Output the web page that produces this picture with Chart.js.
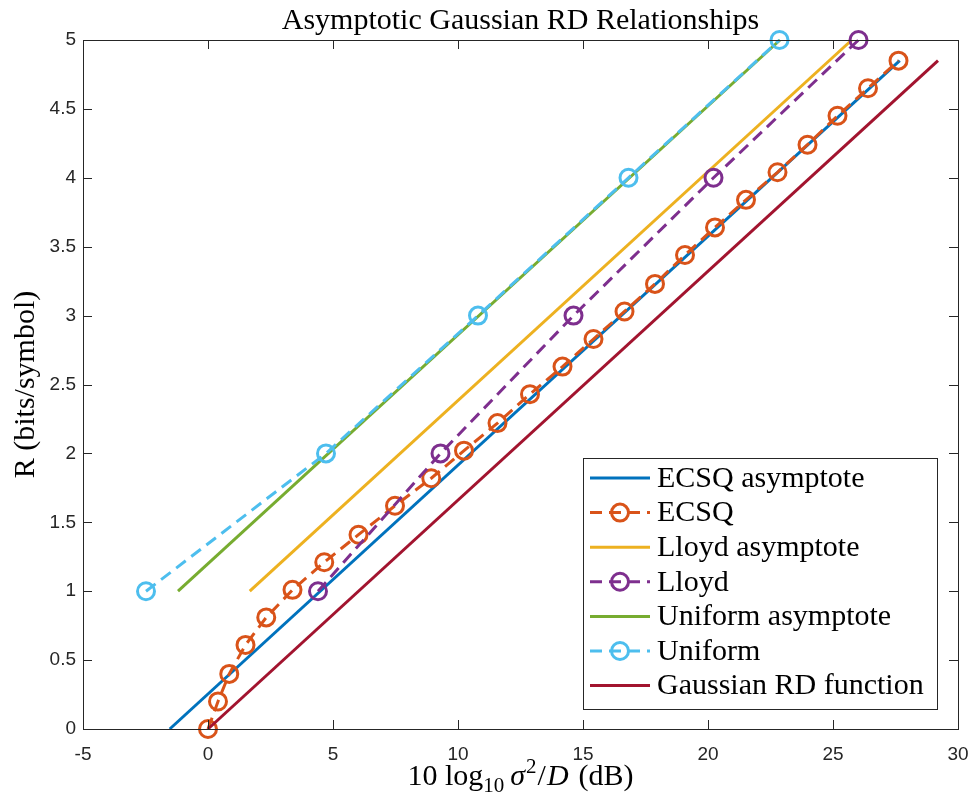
<!DOCTYPE html>
<html><head><meta charset="utf-8">
<script src="https://cdn.jsdelivr.net/npm/chart.js@4.4.0/dist/chart.umd.min.js"></script>
<style>html,body{margin:0;padding:0;background:#fff;}#wrap{width:972px;height:800px;position:relative;}</style>
</head><body><div id="wrap"><canvas id="c" width="972" height="800"></canvas></div>
<script>
// ---- data ----
const xTicks = [-5, 0, 5, 10, 15, 20, 25, 30];
const yTicks = [0, 0.5, 1, 1.5, 2, 2.5, 3, 3.5, 4, 4.5, 5];

const ecsqAsymX = [-1.53, 27.67];
const ecsqAsymR = [0, 4.85];
const ecsqX = [0, 0.40, 0.85, 1.50, 2.33, 3.38, 4.65, 6.02, 7.48, 8.93, 10.24, 11.58, 12.88, 14.18, 15.42, 16.66, 17.88, 19.08, 20.28, 21.52, 22.78, 23.98, 25.18, 26.40, 27.62];
const ecsqR = [0, 0.20, 0.40, 0.61, 0.81, 1.01, 1.21, 1.41, 1.62, 1.82, 2.02, 2.22, 2.43, 2.63, 2.83, 3.03, 3.23, 3.44, 3.64, 3.84, 4.04, 4.24, 4.45, 4.65, 4.85];
const lloydAsymX = [1.67, 25.75];
const lloydAsymR = [1, 5];
const lloydX = [4.40, 9.30, 14.62, 20.22, 26.02];
const lloydR = [1, 2, 3, 4, 5];
const unifAsymX = [-1.20, 22.88];
const unifAsymR = [1, 5];
const unifX = [-2.48, 4.72, 10.80, 16.82, 22.86];
const unifR = [1, 2, 3, 4, 5];
const rdX = [0, 29.20];
const rdR = [0, 4.85];

const seriesNames = ['ECSQ asymptote', 'ECSQ', 'Lloyd asymptote', 'Lloyd', 'Uniform asymptote', 'Uniform', 'Gaussian RD function'];
const colors = ['#0072BD', '#D95319', '#EDB120', '#7E2F8E', '#77AC30', '#4DBEEE', '#A2142F'];

const pts = (xs, ys) => xs.map((x, i) => ({x: x, y: ys[i]}));
const DASH = [12, 7];
const LW = 3;

function mk(i, data, marker) {
  return {
    label: seriesNames[i], data: data,
    borderColor: colors[i], backgroundColor: colors[i],
    borderWidth: LW, borderDash: marker ? DASH : [],
    pointRadius: marker ? 8.5 : 0, pointHoverRadius: marker ? 8.5 : 0,
    pointBorderWidth: 3, pointBorderColor: colors[i],
    pointBackgroundColor: 'rgba(0,0,0,0)', pointStyle: 'circle',
    showLine: true, fill: false, tension: 0, clip: false,
    order: 10 - i
  };
}

const datasets = [
  mk(0, pts(ecsqAsymX, ecsqAsymR), false),
  mk(1, pts(ecsqX, ecsqR), true),
  mk(2, pts(lloydAsymX, lloydAsymR), false),
  mk(3, pts(lloydX, lloydR), true),
  mk(4, pts(unifAsymX, unifAsymR), false),
  mk(5, pts(unifX, unifR), true),
  mk(6, pts(rdX, rdR), false)
];

const SERIF = '"Liberation Serif", "Times New Roman", serif';
const SANS = '"Liberation Sans", Arial, sans-serif';
const AX = '#262626';
const FS = 30;

const deco = {
  id: 'deco',
  afterDraw(chart) {
    const ctx = chart.ctx, a = chart.chartArea;
    const xs = chart.scales.x, ys = chart.scales.y;
    ctx.save();
    // box
    ctx.strokeStyle = AX; ctx.lineWidth = 1;
    ctx.strokeRect(Math.round(a.left) + 0.5, Math.round(a.top) + 0.5, Math.round(a.right - a.left), Math.round(a.bottom - a.top));
    // inward ticks
    const TL = 9;
    ctx.beginPath();
    xTicks.forEach(v => {
      const px = Math.round(xs.getPixelForValue(v)) + 0.5;
      ctx.moveTo(px, a.bottom); ctx.lineTo(px, a.bottom - TL);
      ctx.moveTo(px, a.top); ctx.lineTo(px, a.top + TL);
    });
    yTicks.forEach(v => {
      const py = Math.round(ys.getPixelForValue(v)) + 0.5;
      ctx.moveTo(a.left, py); ctx.lineTo(a.left + TL, py);
      ctx.moveTo(a.right, py); ctx.lineTo(a.right - TL, py);
    });
    ctx.stroke();

    // title
    const cx = (a.left + a.right) / 2;
    ctx.fillStyle = '#000';
    ctx.font = FS + 'px ' + SERIF;
    ctx.textAlign = 'center'; ctx.textBaseline = 'alphabetic';
    ctx.fillText('Asymptotic Gaussian RD Relationships', cx, 29);

    // x axis label: 10 log_10 σ^2/D (dB)
    const parts = [
      {t: '10 log', f: FS + 'px ' + SERIF, dy: 0, gap: 0},
      {t: '10', f: '21px ' + SERIF, dy: 7, gap: 6},
      {t: 'σ', f: 'italic ' + FS + 'px ' + SERIF, dy: 0, gap: 1},
      {t: '2', f: '21px ' + SERIF, dy: -12, gap: 1},
      {t: '/', f: FS + 'px ' + SERIF, dy: 0, gap: 1},
      {t: 'D', f: 'italic ' + FS + 'px ' + SERIF, dy: 0, gap: 10},
      {t: '(dB)', f: FS + 'px ' + SERIF, dy: 0, gap: 0}
    ];
    let tw = 0;
    parts.forEach(p => { ctx.font = p.f; p.w = ctx.measureText(p.t).width; tw += p.w + p.gap; });
    let x0 = cx - tw / 2;
    ctx.textAlign = 'left';
    const base = 785;
    parts.forEach(p => { ctx.font = p.f; ctx.fillText(p.t, x0, base + p.dy); x0 += p.w + p.gap; });

    // legend
    const L = {x: 583, y: 458, w: 354, h: 251};
    ctx.fillStyle = '#fff';
    ctx.fillRect(L.x, L.y, L.w, L.h);
    ctx.strokeStyle = AX; ctx.lineWidth = 1;
    ctx.strokeRect(L.x + 0.5, L.y + 0.5, L.w, L.h);
    const markers = [false, true, false, true, false, true, false];
    ctx.font = FS + 'px ' + SERIF;
    ctx.textBaseline = 'middle';
    for (let i = 0; i < 7; i++) {
      const yy = 478 + i * 34.6;
      ctx.strokeStyle = colors[i]; ctx.lineWidth = LW;
      ctx.setLineDash(markers[i] ? DASH : []);
      ctx.beginPath(); ctx.moveTo(590, yy); ctx.lineTo(650, yy); ctx.stroke();
      ctx.setLineDash([]);
      if (markers[i]) {
        ctx.beginPath(); ctx.arc(620, yy, 8.5, 0, Math.PI * 2); ctx.stroke();
      }
      ctx.fillStyle = '#000';
      ctx.fillText(seriesNames[i], 657, yy + 1);
    }
    ctx.restore();
  }
};

new Chart(document.getElementById('c'), {
  type: 'scatter',
  data: {datasets: datasets},
  options: {
    responsive: false, animation: false,
    layout: {padding: {left: 0, right: 14, top: 40, bottom: 0}},
    plugins: {legend: {display: false}, tooltip: {enabled: false}, title: {display: false}},
    scales: {
      x: {
        type: 'linear', min: -5, max: 30,
        afterBuildTicks: s => { s.ticks = xTicks.map(v => ({value: v})); },
        afterFit: s => { s.height = 71; s.paddingLeft = 0; s.paddingRight = 0; },
        grid: {display: false, drawTicks: false},
        border: {display: false},
        ticks: {color: AX, font: {family: SANS, size: 19}, padding: 14, maxRotation: 0, autoSkip: false, callback: v => String(v)}
      },
      y: {
        type: 'linear', min: 0, max: 5,
        afterBuildTicks: s => { s.ticks = yTicks.map(v => ({value: v})); },
        afterFit: s => { s.width = 83; s.paddingTop = 0; s.paddingBottom = 0; },
        grid: {display: false, drawTicks: false},
        border: {display: false},
        ticks: {color: AX, font: {family: SANS, size: 19}, padding: 7, autoSkip: false, callback: v => String(v)},
        title: {display: true, text: 'R (bits/symbol)', color: '#000', font: {family: SERIF, size: FS}, padding: {top: 8, bottom: 0}}
      }
    }
  },
  plugins: [deco]
});
</script>
</body></html>
